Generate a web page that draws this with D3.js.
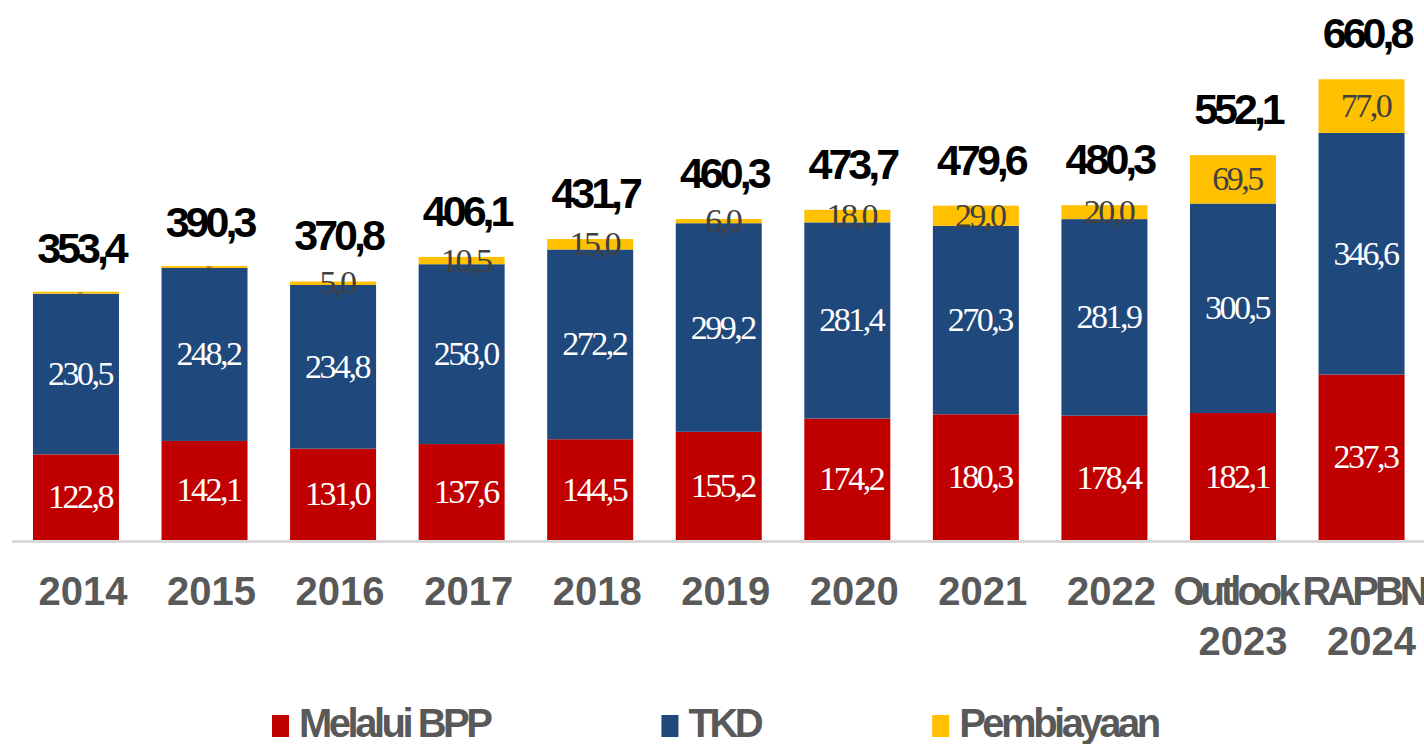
<!DOCTYPE html>
<html>
<head>
<meta charset="utf-8">
<script src="https://cdn.jsdelivr.net/npm/d3@7"></script>
<style>
  html, body { margin: 0; padding: 0; background: #fff; }
  svg { display: block; }
</style>
</head>
<body>
<div id="chart"></div>
<script>
// data
const years = ["2014", "2015", "2016", "2017", "2018", "2019", "2020", "2021", "2022", "Outlook\n2023", "RAPBN\n2024"];
const bpp = [122.8, 142.1, 131.0, 137.6, 144.5, 155.2, 174.2, 180.3, 178.4, 182.1, 237.3];
const tkd = [230.5, 248.2, 234.8, 258.0, 272.2, 299.2, 281.4, 270.3, 281.9, 300.5, 346.6];
const pembiayaan = [0.1, 0.0, 5.0, 10.5, 15.0, 6.0, 18.0, 29.0, 20.0, 69.5, 77.0];
const totals = [353.4, 390.3, 370.8, 406.1, 431.7, 460.3, 473.7, 479.6, 480.3, 552.1, 660.8];
const seriesNames = ["Melalui BPP", "TKD", "Pembiayaan"];
const colors = ["#c00000", "#1f497d", "#ffc000"];

function drawChart() {
    let width = 1424;
    let height = 744;
    let baseY = 540;

    let svg = d3.select("#chart")
        .append("svg")
        .attr("width", width)
        .attr("height", height);

    let rows = years.map((y, i) => ({ year: y, bpp: bpp[i], tkd: tkd[i], pemb: pembiayaan[i], total: totals[i] }));
    let keys = ["bpp", "tkd", "pemb"];
    let stacked = d3.stack().keys(keys)(rows);

    let xScale = d3.scaleBand()
        .domain(years)
        .range([12, 1425.5])
        .paddingInner(0.331)
        .paddingOuter(0.163);

    let yScale = d3.scaleLinear()
        .domain([0, 700])
        .range([baseY, 52]);

    // bars
    let layers = svg.append("g").selectAll("g")
        .data(stacked)
        .enter().append("g")
        .attr("fill", (d, i) => colors[i]);

    layers.selectAll("rect")
        .data(d => d)
        .enter().append("rect")
        .attr("x", d => xScale(d.data.year))
        .attr("width", xScale.bandwidth())
        .attr("y", d => Math.min(yScale(d[1]), yScale(d[0]) - 2))
        .attr("height", d => Math.max(2, yScale(d[0]) - yScale(d[1])));

    // axis line
    svg.append("line")
        .attr("x1", 12).attr("x2", width)
        .attr("y1", baseY + 1.5).attr("y2", baseY + 1.5)
        .attr("stroke", "#d9d9d9")
        .attr("stroke-width", 3);

    // segment labels
    let fmt = v => d3.format(".1f")(v).replace(".", ",");
    stacked.forEach((layer, li) => {
        svg.append("g").selectAll("text")
            .data(layer)
            .enter().append("text")
            .attr("x", d => xScale(d.data.year) + xScale.bandwidth() / 2 + 4)
            .attr("y", d => {
                let mid = (yScale(d[0]) + yScale(d[1])) / 2;
                let v = d[1] - d[0];
                return v < 1 ? mid + 2 : mid + 11;
            })
            .attr("text-anchor", "middle")
            .style("font-family", "'Liberation Serif', 'Times New Roman', serif")
            .style("font-size", d => (d[1] - d[0]) < 1 ? "6px" : "34px")
            .style("letter-spacing", d => (d[1] - d[0]) < 1 ? "-1px" : "-2.5px")
            .style("fill", li == 2 ? "#404040" : "#ffffff")
            .text(d => fmt(d[1] - d[0]));
    });

    // totals
    svg.append("g").selectAll("text")
        .data(rows)
        .enter().append("text")
        .attr("x", d => xScale(d.year) + xScale.bandwidth() / 2 + 5)
        .attr("y", d => yScale(d.total) - 31)
        .attr("text-anchor", "middle")
        .style("font-family", "'Liberation Sans', Arial, sans-serif")
        .style("font-weight", "bold")
        .style("font-size", "43px")
        .style("letter-spacing", "-4px")
        .style("fill", "#000")
        .text(d => fmt(d.total));

    // category labels
    let cats = svg.append("g").selectAll("text")
        .data(years)
        .enter().append("text")
        .attr("text-anchor", "middle")
        .style("font-family", "'Liberation Sans', Arial, sans-serif")
        .style("font-weight", "bold")
        .style("font-size", "40px")
        .style("fill", "#595959");

    cats.each(function(y) {
        let lines = y.split("\n");
        let cx = xScale(y) + xScale.bandwidth() / 2;
        let t = d3.select(this);
        lines.forEach((line, k) => {
            t.append("tspan")
                .attr("x", cx + (k == 1 ? 10 : (lines.length > 1 ? 2 : 7)))
                .attr("y", 605 + k * 50)
                .style("letter-spacing", lines.length > 1 && k == 0 ? "-4px" : "0px")
                .text(line);
        });
    });

    // legend
    let legend = svg.append("g");
    let lx = 0;
    seriesNames.forEach((name, i) => {
        let item = legend.append("g").attr("transform", "translate(" + lx + ",0)");
        item.append("rect")
            .attr("x", 0).attr("y", 715)
            .attr("width", 17).attr("height", 22)
            .attr("fill", colors[i]);
        let txt = item.append("text")
            .attr("x", 27).attr("y", 737)
            .style("font-family", "'Liberation Sans', Arial, sans-serif")
            .style("font-weight", "bold")
            .style("font-size", "40px")
            .style("letter-spacing", "-3.5px")
            .style("fill", "#595959")
            .text(name);
        lx += 27 + txt.node().getComputedTextLength() + 172;
    });
    legend.attr("transform", "translate(272,0)");
}

window.onload = () => {
    drawChart();
}
</script>
</body>
</html>
